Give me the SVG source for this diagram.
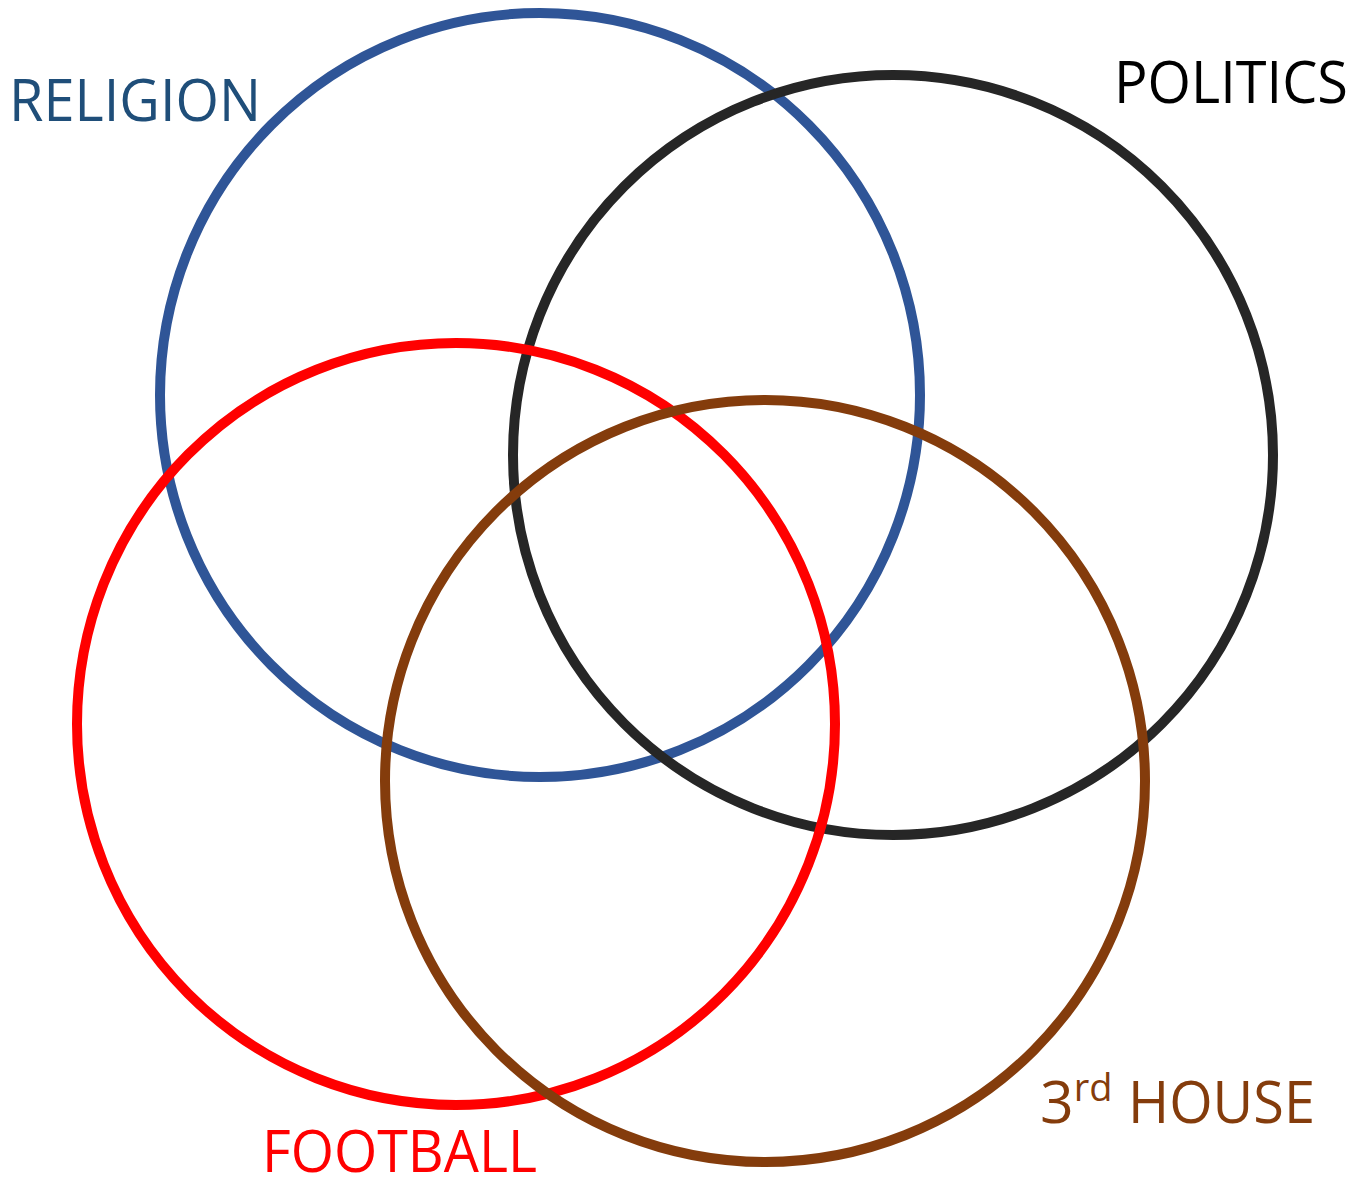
<svg xmlns="http://www.w3.org/2000/svg" width="1368" height="1183" viewBox="0 0 1368 1183">
<style>
.c{fill:none;stroke-width:10}
.t{font-family:"Open Sans","Liberation Sans",sans-serif;font-size:59px}
</style>
<rect width="1368" height="1183" fill="#fff"/>
<g id="connectors"></g>
<g id="religion">
<ellipse class="c" cx="540" cy="395" rx="380" ry="382" stroke="#2F5597"/>
<text class="t" x="9" y="121" fill="#1F4E79" textLength="252" lengthAdjust="spacingAndGlyphs">RELIGION</text>
</g>
<g id="politics">
<ellipse class="c" cx="893" cy="455" rx="380" ry="380" stroke="#262626"/>
<text class="t" x="1114" y="103" fill="#000" textLength="234" lengthAdjust="spacingAndGlyphs">POLITICS</text>
</g>
<g id="football">
<ellipse class="c" cx="456" cy="724" rx="379" ry="381" stroke="#FF0000" stroke-width="11"/>
<text class="t" x="262" y="1172" fill="#FF0000" textLength="275" lengthAdjust="spacingAndGlyphs">FOOTBALL</text>
</g>
<g id="third-house">
<ellipse class="c" cx="765" cy="781" rx="380" ry="381" stroke="#843C0C"/>
<text class="t" x="1040" y="1123" fill="#843C0C">3<tspan font-size="38" dy="-22">rd</tspan><tspan x="1128" dy="22" textLength="187" lengthAdjust="spacingAndGlyphs">HOUSE</tspan></text>
</g>
</svg>
